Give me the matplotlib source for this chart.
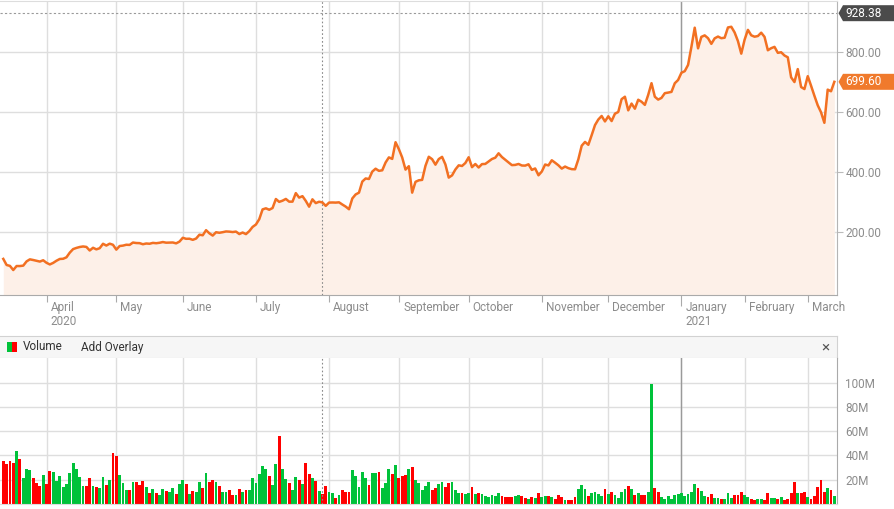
import numpy as np
import pandas as pd
import matplotlib
matplotlib.use('Agg')
import matplotlib.pyplot as plt
import matplotlib.transforms as mtransforms
from matplotlib.patches import Rectangle, Polygon

plt.rcParams['font.family'] = ['Roboto', 'DejaVu Sans']

# ---- data -------------------------------------------------------------
START, END = '2020-03-13', '2021-03-11'
HOLIDAYS = ['2020-04-10', '2020-05-25', '2020-07-03', '2020-09-07', '2020-11-26',
            '2020-12-25', '2021-01-01', '2021-01-18', '2021-02-15']

close_mar20 = [109.32, 89.01, 86.04, 72.24, 85.53, 85.51, 86.86, 101.0, 107.85, 105.63,
               102.87, 100.43, 104.8]
close_apr20 = [96.31, 90.89, 96.0, 103.25, 109.09, 109.77, 114.6, 130.19, 141.98, 145.97,
               149.04, 150.78, 149.27, 137.34, 146.42, 141.13, 145.03, 159.75, 153.82, 160.1,
               156.38]
close_may20 = [140.26, 152.24, 153.64, 156.52, 156.01, 163.88, 162.26, 161.88, 158.19, 160.67,
               159.83, 162.73, 161.6, 163.11, 165.52, 163.38, 163.77, 164.05, 161.16, 167.0]
close_jun20 = [179.62, 176.31, 176.59, 172.88, 177.13, 189.98, 188.13, 205.01, 194.57, 187.06,
               198.18, 196.43, 198.36, 200.79, 200.18, 198.86, 200.36, 192.17, 197.2, 191.95,
               201.87, 215.96]
close_jul20 = [223.93, 241.73, 274.32, 277.97, 273.18, 278.86, 308.93, 299.41, 303.36, 309.2,
               300.13, 300.17, 328.6, 313.67, 318.47, 302.61, 283.4, 307.92, 295.3, 299.82,
               297.5, 286.15]
close_aug20 = [297.0, 297.4, 297.0, 297.92, 290.54, 283.71, 274.88, 310.95, 324.2, 330.14,
               367.13, 377.42, 375.71, 400.37, 409.99, 402.84, 404.67, 430.63, 447.75, 442.68,
               498.32]
close_sep20 = [475.05, 447.37, 407.0, 418.32, 330.21, 366.28, 371.34, 372.72, 419.62, 449.76,
               441.76, 423.43, 442.15, 449.39, 424.23, 380.36, 387.79, 407.34, 421.2, 419.07,
               429.01]
close_oct20 = [448.16, 415.09, 425.68, 413.98, 425.3, 425.92, 434.0, 442.3, 446.65, 461.3,
               448.88, 439.67, 430.83, 421.94, 422.64, 425.79, 420.63, 420.28, 424.68, 406.02,
               410.83, 388.04]
close_nov20 = [400.51, 423.9, 420.98, 438.09, 429.95, 421.26, 410.36, 417.13, 411.76, 408.5,
               408.09, 441.61, 486.64, 499.27, 489.61, 521.85, 555.38, 574.0, 585.76, 567.6]
close_dec20 = [584.76, 568.82, 593.38, 599.04, 641.76, 649.88, 604.48, 627.07, 609.99, 639.83,
               633.25, 622.77, 655.9, 695.0, 649.86, 640.34, 645.98, 661.77, 663.69, 665.99,
               694.78, 705.67]
close_jan21 = [729.77, 735.11, 755.98, 816.04, 880.02, 811.19, 849.44, 854.41, 845.0, 826.16,
               844.55, 850.45, 844.99, 846.64, 880.8, 883.09, 864.16, 835.43, 793.53]
close_feb21 = [839.81, 872.79, 854.69, 849.99, 852.23, 863.42, 849.46, 804.82, 811.66, 816.12,
               796.22, 798.15, 787.38, 781.3, 714.5, 698.84, 742.02, 682.22, 675.5]
close_mar21 = [718.43, 686.44, 653.2, 621.44, 597.95, 563.0, 673.58, 668.06, 699.6]

# volume in millions
volume = [
    35.8, 33.3, 35.8, 34.2, 44.0, 37.5, 21.7, 29.2, 28.3, 21.7, 17.5, 15.0, 24.2, 16.7,
    27.5, 26.7, 19.2, 23.3, 14.2, 16.7, 25.8, 34.2, 29.2, 22.5, 15.0, 15.0, 21.7, 15.0,
    14.2, 13.3, 22.5, 15.8, 20.0, 41.7, 39.2, 24.2, 17.5, 11.7, 11.7, 18.3, 18.3, 15.8,
    19.2, 14.2, 9.2, 12.5, 9.2, 7.5, 12.5, 10.8, 10.0, 13.3, 8.3, 16.7, 20.0, 16.7,
    8.3, 10.8, 10.0, 18.3, 13.3, 25.8, 18.3, 20.0, 18.3, 15.0, 10.0, 10.0, 11.7, 7.5,
    7.5, 12.5, 10.0, 11.7, 11.7, 21.7, 17.5, 25.0, 31.7, 29.2, 23.3, 15.8, 33.3, 55.8,
    29.2, 20.8, 17.5, 11.7, 22.5, 20.0, 16.7, 34.2, 25.0, 21.7, 19.2, 10.8, 8.3, 15.0,
    10.0, 9.2, 5.0, 7.5, 11.7, 10.0, 10.0, 28.3, 23.3, 14.2, 26.7, 21.7, 15.8, 25.8,
    25.8, 26.7, 13.3, 17.5, 29.2, 25.0, 32.5, 21.7, 23.3, 24.2, 29.2, 30.8, 20.0, 17.5,
    11.7, 15.0, 18.3, 11.7, 13.3, 16.7, 18.3, 14.2, 17.5, 18.3, 11.7, 9.2, 9.2, 8.3,
    9.2, 14.2, 8.3, 9.2, 8.3, 6.7, 5.8, 7.5, 6.7, 9.2, 6.7, 5.8, 5.8, 5.8,
    6.7, 7.5, 6.7, 5.0, 4.2, 5.8, 5.0, 9.2, 5.8, 6.7, 6.7, 5.8, 4.2, 7.5,
    5.8, 3.3, 3.3, 3.3, 5.8, 12.5, 15.8, 12.5, 6.7, 9.2, 10.0, 8.3, 6.7, 12.5,
    8.3, 10.0, 7.5, 5.0, 10.0, 12.5, 15.0, 12.5, 7.5, 9.2, 7.5, 7.5, 10.0, 99.0,
    13.3, 10.0, 5.8, 4.2, 6.7, 4.2, 7.5, 8.3, 9.2, 6.7, 8.3, 10.0, 16.7, 13.3,
    10.8, 6.7, 5.8, 8.3, 5.0, 5.0, 4.2, 4.2, 9.2, 5.0, 7.5, 7.5, 10.0, 7.5,
    5.8, 4.2, 3.3, 4.2, 4.2, 3.3, 9.2, 5.0, 5.0, 4.2, 5.8, 3.3, 4.2, 9.2,
    18.3, 9.2, 9.2, 10.0, 5.8, 4.2, 6.7, 14.2, 20.0, 10.0, 13.3, 11.7, 6.7,
]

price_ticks = [200, 400, 600, 800]
volume_ticks = [20, 40, 60, 80, 100]
high_mark = 928.38
marker_date = '2020-07-30'

# ---- prep -------------------------------------------------------------
close = np.array(close_mar20 + close_apr20 + close_may20 + close_jun20 + close_jul20 +
                 close_aug20 + close_sep20 + close_oct20 + close_nov20 + close_dec20 +
                 close_jan21 + close_feb21 + close_mar21)
dates = pd.bdate_range(START, END)
dates = dates[~dates.isin(pd.to_datetime(HOLIDAYS))]
x = np.arange(len(close))

up = np.r_[False, np.diff(close) > 0]
bar_colors = np.where(up, '#00c23a', '#ff0000')

month_idx = [i for i in range(1, len(dates)) if dates[i].month != dates[i - 1].month]
month_lbl = [dates[i].strftime('%B') for i in month_idx]
jan_idx = [i for i in month_idx if dates[i].month == 1][0]
marker_idx = int(np.where(dates == pd.Timestamp(marker_date))[0][0])

GRID = '#dedede'
LABEL = '#8c8c8c'
W, H = 895, 509


def frame(x0, y0, x1, y1):
    return [x0 / W, 1 - y1 / H, (x1 - x0) / W, (y1 - y0) / H]


fig = plt.figure(figsize=(W / 100, H / 100), dpi=100)
ax = fig.add_axes(frame(0, 1, 837, 295))
axh = fig.add_axes(frame(0, 336, 837, 358))
axv = fig.add_axes(frame(0, 358, 837, 504))

xlim = (-0.99, 250.8)

# ---- price panel ------------------------------------------------------
ax.set_xlim(*xlim)
ax.set_ylim(-11, 969)
ax.set_axisbelow(True)
ax.fill_between(x, close, -11, color='#fdf0e8', lw=0, zorder=1.5)
ax.plot(x, close, color='#f27022', lw=1.8, zorder=3)
ax.axhline(high_mark, color='#9a9a9a', ls=(0, (2, 2)), lw=0.8, zorder=2)
ax.axvline(jan_idx, color='#9a9a9a', lw=1, zorder=1)
ax.axvline(marker_idx, color='#8a8a8a', ls=(0, (1.5, 2)), lw=0.8, zorder=2)

ax.set_yticks(price_ticks)
ax.set_yticklabels([f'{v:.2f}' for v in price_ticks])
ax.yaxis.tick_right()
ax.set_xticks(month_idx)
ax.set_xticklabels([])
ax.grid(color=GRID, lw=1)
ax.tick_params(axis='y', length=4, color='#bbbbbb', pad=2, labelcolor=LABEL, labelsize=8.5)
ax.tick_params(axis='x', length=5, color='#aaaaaa')
# year boundary tick is longer and darker
jt = ax.xaxis.get_major_ticks()[month_idx.index(jan_idx)]
jt.tick1line.set_markersize(8)
jt.tick1line.set_color('#888888')
ax.spines['left'].set_visible(False)
ax.spines['top'].set_color('#dddddd')
ax.spines['right'].set_color('#b5b5b5')
ax.spines['bottom'].set_color('#aaaaaa')

for i, lbl in zip(month_idx, month_lbl):
    ax.annotate(lbl, xy=(i, 0), xycoords=('data', 'axes fraction'), xytext=(3, -11.5),
                textcoords='offset points', va='baseline', ha='left', fontsize=8.5, color=LABEL)
    if dates[i].month == 1 or i == month_idx[0]:
        ax.annotate(str(dates[i].year), xy=(i, 0), xycoords=('data', 'axes fraction'),
                    xytext=(3, -21.6), textcoords='offset points', va='baseline', ha='left',
                    fontsize=8.5, color=LABEL)

# value tags on the right
blend = mtransforms.blended_transform_factory(ax.transAxes, ax.transData)
px = 1 / 837
half = 8 * (980 / 294)
for val, col in [(high_mark, '#4b4b4b'), (close[-1], '#f07a2c')]:
    tip, body, end = 838.5 * px, 843 * px, 895 * px
    pts = [(tip, val), (body, val + half), (end, val + half), (end, val - half), (body, val - half)]
    ax.add_patch(Polygon(pts, closed=True, transform=blend, fc=col, ec='none', clip_on=False))
    ax.text(845 * px, val, f'{val:.2f}', transform=blend, color='white', fontsize=8.5,
            va='center', ha='left', clip_on=False)

# ---- volume header ----------------------------------------------------
axh.set_xlim(0, 837)
axh.set_ylim(0, 22)
axh.set_facecolor('#f6f6f6')
axh.set_xticks([])
axh.set_yticks([])
axh.spines['left'].set_visible(False)
for s in ['top', 'bottom', 'right']:
    axh.spines[s].set_color('#d2d2d2')
axh.add_patch(Rectangle((6.7, 5.7), 5.4, 10, fc='#00c23a', ec='none'))
axh.add_patch(Rectangle((12.1, 5.7), 5.4, 10, fc='#ff0000', ec='none'))
axh.text(22.5, 11, 'Volume', fontsize=8.5, color='#333333', va='center', ha='left')
axh.text(81.5, 11, 'Add Overlay', fontsize=8.5, color='#333333', va='center', ha='left')
axh.text(825, 11, '\u00d7', fontsize=11, color='#555555', va='center', ha='center')

# ---- volume panel -----------------------------------------------------
axv.set_xlim(*xlim)
axv.set_ylim(0, 120.4)
axv.set_axisbelow(True)
axv.bar(x, volume, width=0.85, color=bar_colors, lw=0, zorder=2)
axv.axvline(jan_idx, color='#9a9a9a', lw=1, zorder=1)
axv.axvline(marker_idx, color='#8a8a8a', ls=(0, (1.5, 2)), lw=0.8, zorder=3)
axv.set_yticks(volume_ticks)
axv.set_yticklabels([f'{v}M' for v in volume_ticks])
axv.yaxis.tick_right()
axv.set_xticks(month_idx)
axv.set_xticklabels([])
axv.grid(color=GRID, lw=1)
axv.tick_params(axis='y', length=0, pad=6, labelcolor=LABEL, labelsize=8.5)
axv.tick_params(axis='x', length=0)
axv.spines['left'].set_visible(False)
axv.spines['top'].set_visible(False)
axv.spines['right'].set_color('#aaaaaa')
axv.spines['bottom'].set_color('#dddddd')

fig.savefig('out.png', dpi=100, facecolor='white')
